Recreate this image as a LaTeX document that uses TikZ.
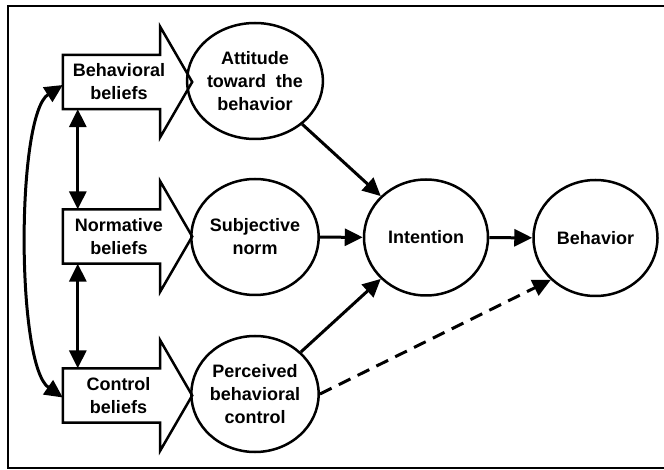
\documentclass[tikz,border=0pt]{standalone}
\usepackage{fontspec}
\setmainfont{Liberation Sans}
\usetikzlibrary{arrows.meta,shapes.geometric,calc}
\begin{document}
\begin{tikzpicture}[x=1pt,y=-1pt,
  txt/.style={font=\bfseries\fontsize{18}{23}\selectfont, align=center},
  bodybox/.style={txt, minimum width=97pt, minimum height=54pt, inner sep=0pt},
  circ/.style={txt, ellipse, draw, line width=2.5pt, minimum width=124pt, minimum height=116pt, inner sep=0pt},
  blk/.style={draw, line width=2.5pt, line join=miter},
  conn/.style={line width=3pt, -{Triangle[length=18pt,width=17pt]}},
  dconn/.style={conn, {Triangle[length=18pt,width=17pt]}-{Triangle[length=18pt,width=17pt]}},
  dash conn/.style={conn, dash pattern=on 13pt off 8pt}
]
\useasboundingbox (0,0) rectangle (664,470);
\draw[line width=2.5pt] (666,6) -- (8,6) -- (8,468) -- (666,468);

\newcommand\blockarrowshape[1]{%
  \draw[blk] (#1.south west) -- (#1.north west) -- (#1.north east) -- ++(0,-28)
    -- ($(#1.east)+(32,0)$) -- ($(#1.south east)+(0,28)$) -- (#1.south east) -- cycle;}

\node[bodybox] (bb) at (111.5,82) {};
\node[bodybox] (nb) at (111.5,236.5) {};
\node[bodybox] (cb) at (111.5,395.5) {};
\blockarrowshape{bb}
\blockarrowshape{nb}
\blockarrowshape{cb}
\node[txt] (bbt) at ([xshift=7.5pt]bb.center) {Behavioral\\beliefs};
\node[txt] (nbt) at ([xshift=7.5pt]nb.center) {Normative\\beliefs};
\node[txt] (cbt) at ([xshift=7pt]cb.center) {Control\\beliefs};

\node[circ] (att) at (255,81) {Attitude\\toward~~the\\behavior};
\node[circ] (sn) at (255,237) {Subjective\\norm};
\node[circ] (pbc) at (255,394) {Perceived\\behavioral\\control};
\node[circ] (int) at (426,237.5) {Intention};
\node[circ] (beh) at (595.5,238) {Behavior};

\draw[dconn] ([xshift=15pt]bb.south west) -- ([xshift=15pt]nb.north west);
\draw[dconn] ([xshift=15pt]nb.south west) -- ([xshift=15pt]cb.north west);
\draw[dconn] ([yshift=-3pt]bb.west) .. controls (16,115) and (16,365) .. ([yshift=-2pt]cb.west);

\draw[conn] (att) -- (int);
\draw[conn] (sn) -- (int);
\draw[conn] (pbc) -- (int);
\draw[conn] (int) -- (beh);
\draw[dash conn] (pbc.east) -- (beh.south west);
\end{tikzpicture}
\end{document}
